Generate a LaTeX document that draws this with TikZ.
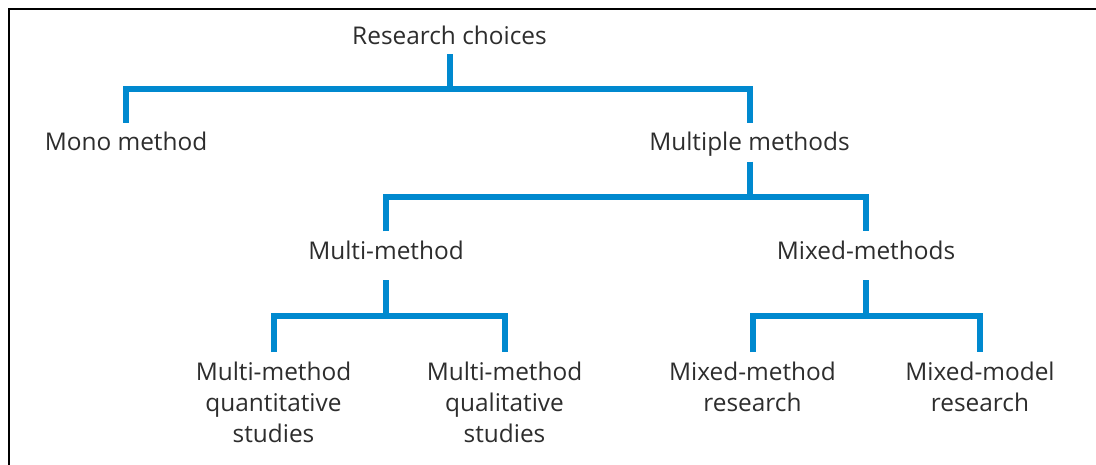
\documentclass[tikz,border=0pt]{standalone}
\usepackage{fontspec}
\setmainfont{Open Sans}
\usepackage{tikz}
\definecolor{branchblue}{RGB}{0,137,207}
\definecolor{textgray}{RGB}{45,45,45}

\begin{document}
\begin{tikzpicture}[x=1pt, y=-1pt,
        every node/.style={inner sep=0pt, text=textgray, font=\fontsize{24.4}{31}\selectfont},
        choice/.style={anchor=base, text height=28pt, text depth=9pt},
        midchoice/.style={choice, text depth=20.5pt},
        leaf/.style={anchor=north, inner ysep=10pt, align=center},
        branch/.style={draw=branchblue, line width=6pt, line join=miter}]
        \useasboundingbox (0,0) rectangle (1096,465);

        % Frame
        \draw[line width=2pt, black] (1096,9) -- (9,9) -- (9,465);

        % Nodes
        \node[choice] (research) at (449.5,45) {Research choices};
        \node[choice] (mono) at (126,151) {Mono method};
        \node[choice, text depth=10.5pt] (multiple) at (749.5,151) {Multiple methods};
        \node[midchoice] (multim) at (386,259.5) {Multi-method};
        \node[midchoice] (mixedm) at (866,259.5) {Mixed-methods};
        \node[leaf] (quant) at (273.5,352) {Multi-method\\quantitative\\studies};
        \node[leaf] (qual) at (504.5,352) {Multi-method\\qualitative\\studies};
        \node[leaf] (mmr) at (752.5,352) {Mixed-method\\research};
        \node[leaf] (mmod) at (980,352) {Mixed-model\\research};

        % Edges
        \draw[branch] (research.south) -- ++(0,34.5) coordinate (j1);
        \draw[branch] (mono.north) |- (j1) -| (multiple.north);
        \draw[branch] (multiple.south) -- ++(0,35) coordinate (j2);
        \draw[branch] (multim.north) |- (j2) -| (mixedm.north);
        \foreach \top/\left/\right in {multim/quant/qual, mixedm/mmr/mmod} {
                \draw[branch] (\top.south) -- ++(0,35.5) coordinate (j3);
                \draw[branch] (\left.north) |- (j3) -| (\right.north);
        }
\end{tikzpicture}
\end{document}
